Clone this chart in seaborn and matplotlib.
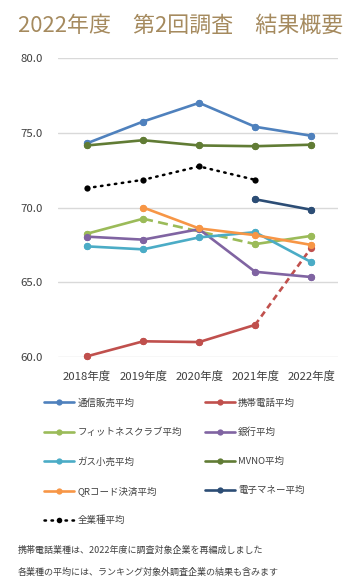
import numpy as np
import pandas as pd
import matplotlib
matplotlib.use("Agg")
import matplotlib.pyplot as plt
from matplotlib.lines import Line2D
import seaborn as sns

sns.set_theme(style="white")
plt.rcParams['font.family'] = ['Noto Sans CJK JP', 'DejaVu Sans']

years = ['2018年度', '2019年度', '2020年度', '2021年度', '2022年度']

# values (NaN = no survey that year)
tsuhan = [74.3, 75.75, 77.0, 75.4, 74.8]
keitai = [60.05, 61.05, 61.0, 62.15, 67.3]
fitness = [68.25, 69.25, np.nan, 67.55, 68.1]
ginko = [68.05, 67.85, 68.55, 65.7, 65.35]
gas = [67.4, 67.2, 68.0, 68.35, 66.35]
mvno = [74.15, 74.5, 74.15, 74.1, 74.2]
qr = [np.nan, 70.0, 68.6, 68.15, 67.5]
emoney = [np.nan, np.nan, np.nan, 70.55, 69.85]
zen = [71.3, 71.85, 72.75, 71.85, np.nan]

series = [
    ('通信販売平均', tsuhan, '#4F81BD'),
    ('携帯電話平均', keitai, '#C0504D'),
    ('フィットネスクラブ平均', fitness, '#9BBB59'),
    ('銀行平均', ginko, '#8064A2'),
    ('ガス小売平均', gas, '#4BACC6'),
    ('MVNO平均', mvno, '#617C35'),
    ('QRコード決済平均', qr, '#F79646'),
    ('電子マネー平均', emoney, '#2C4D75'),
]

# dashed connectors: (series name, from year index, to year index, dash)
dashed = [('フィットネスクラブ平均', 1, 3, (0, (3.8, 2.0))),
          ('携帯電話平均', 3, 4, (0, (2.3, 1.6)))]
# solid segments per series (index ranges), default is whole series
solid = {
    'フィットネスクラブ平均': [(0, 1), (3, 4)],
    '携帯電話平均': [(0, 3)],
}

W, H = 362, 584
fig = plt.figure(figsize=(W / 100, H / 100), dpi=100)
ax = fig.add_axes([58 / W, 1 - 357 / H, 280 / W, 299 / H])

x = np.arange(len(years))
lw = 1.9
ms = 5.2

colors = {name: c for name, _, c in series}
values = {name: v for name, v, _ in series}

for name, frm, to, dash in dashed:
    v = values[name]
    sns.lineplot(x=x[frm:to + 1:to - frm], y=[v[frm], v[to]], ax=ax,
                 color=colors[name], lw=lw, linestyle=dash,
                 clip_on=False, zorder=2)

for name, v, c in series:
    df = pd.DataFrame({'x': x, 'y': v})
    segs = solid.get(name, [(0, len(years) - 1)])
    for a, b in segs:
        part = df.iloc[a:b + 1].dropna()
        sns.lineplot(data=part, x='x', y='y', ax=ax, color=c, lw=lw,
                     marker='o', markersize=ms, markeredgewidth=0,
                     clip_on=False, zorder=3)
    # markers on points not covered by solid segments
    pts = df.dropna()
    ax.scatter(pts['x'], pts['y'], s=ms ** 2, color=c, zorder=4,
               linewidths=0, clip_on=False)

zdf = pd.DataFrame({'x': x, 'y': zen}).dropna()
sns.lineplot(data=zdf, x='x', y='y', ax=ax, color='black', lw=1.8,
             linestyle=(0, (0.6, 2.2)), dash_capstyle='round',
             marker='o', markersize=4.5, markeredgewidth=0,
             clip_on=False, zorder=3)

ax.set_xlim(-0.52, 4.48)
ax.set_ylim(60, 80)
ax.set_yticks([60, 65, 70, 75, 80])
ax.set_yticklabels([f'{t:.1f}' for t in [60, 65, 70, 75, 80]])
ax.set_xticks(x)
ax.set_xticklabels(years)
ax.tick_params(axis='both', labelsize=8.2, colors='#404040', length=0)
ax.tick_params(axis='y', pad=11)
ax.tick_params(axis='x', pad=10)
ax.set_xlabel('')
ax.set_ylabel('')
ax.grid(axis='y', color='#D9D9D9', lw=1)
ax.set_axisbelow(True)
for s in ax.spines.values():
    s.set_visible(False)

fig.text(18 / W, 1 - 26 / H, '2022年度　第2回調査　結果概要', fontsize=15.8,
         color='#A58A5E', va='center', ha='left')

def handle(c, ls='-'):
    if ls == '-':
        return Line2D([], [], color=c, lw=lw, marker='o', markersize=4.5,
                      markeredgewidth=0)
    return Line2D([], [], color=c, lw=1.8, linestyle=(0, (0.6, 2.2)),
                  dash_capstyle='round', marker='o', markersize=4,
                  markeredgewidth=0)

col1 = ['通信販売平均', 'フィットネスクラブ平均', 'ガス小売平均', 'QRコード決済平均']
col2 = ['携帯電話平均', '銀行平均', 'MVNO平均', '電子マネー平均']
handles = [handle(colors[n]) for n in col1] + [handle('black', ':')] + \
          [handle(colors[n]) for n in col2]
labels = col1 + ['全業種平均'] + col2

fig.legend(handles, labels, loc='upper left', ncol=2, frameon=False,
           fontsize=6.8, handlelength=3.2, handletextpad=0.35,
           labelspacing=2.1, columnspacing=2.4, borderpad=0,
           borderaxespad=0, labelcolor='#404040',
           bbox_to_anchor=(44 / W, 1 - 398 / H))

fig.text(18 / W, 1 - 550 / H, '携帯電話業種は、2022年度に調査対象企業を再編成しました',
         fontsize=6.5, color='#404040', va='center')
fig.text(18 / W, 1 - 572 / H, '各業種の平均には、ランキング対象外調査企業の結果も含みます',
         fontsize=6.5, color='#404040', va='center')

fig.savefig('out.png', dpi=100)
